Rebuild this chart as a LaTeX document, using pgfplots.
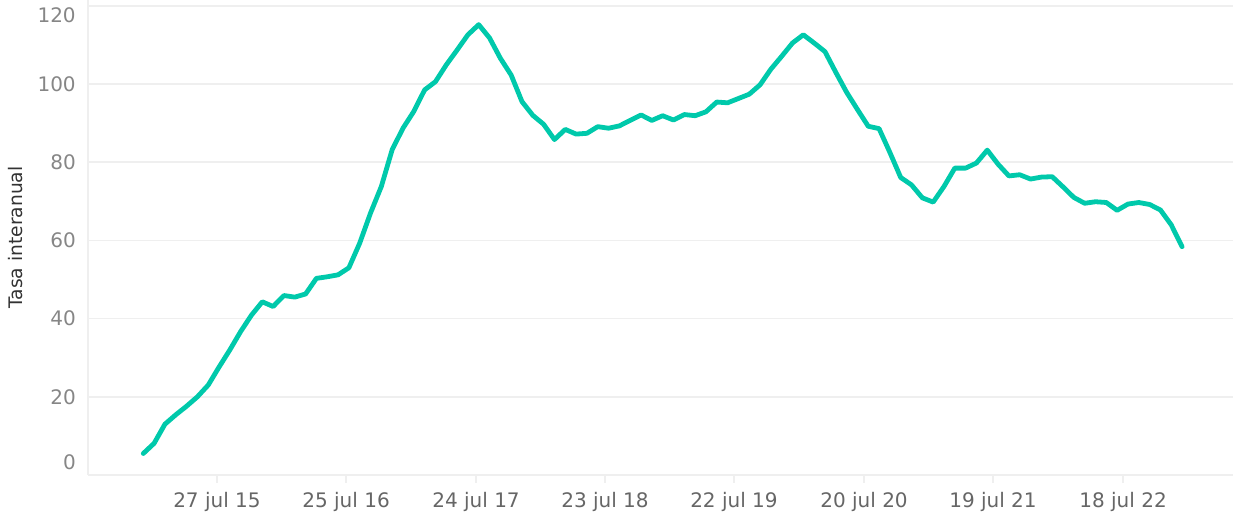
\documentclass[border=0pt]{standalone}
\usepackage{pgfplots}
\pgfplotsset{compat=1.18}
\usepackage{fontspec}
\setmainfont{DejaVu Sans}
\definecolor{teal1}{HTML}{00C9AB}
\definecolor{gridc}{HTML}{EFEFEF}
\definecolor{ylab}{HTML}{868686}
\definecolor{xlab}{HTML}{666666}
\definecolor{titc}{HTML}{333333}
\begin{document}
\begin{tikzpicture}
\path[use as bounding box] (-66pt,-29.25pt) rectangle (858.75pt,356.25pt);
\begin{axis}[
  scale only axis,
  width=858.75pt, height=356.25pt,
  xmin=-5.11, xmax=100.71,
  ymin=0, ymax=121.5,
  axis lines*=left,
  axis line style={-, draw=gridc, line width=1pt},
  x axis line style={dash pattern=on 3pt off 1.5pt},
  ytick={0,20,40,60,80,100,120},
  yticklabels={\raisebox{9.75pt}{0},20,40,60,80,100,\raisebox{-7.3pt}{120}},
  xtick={6.81,18.74,30.75,42.67,54.59,66.61,78.53,90.55},
  xticklabels={27 jul 15,25 jul 16,24 jul 17,23 jul 18,22 jul 19,20 jul 20,19 jul 21,18 jul 22},
  ymajorgrids,
  grid style={draw=gridc, line width=1.2pt},
  ytick style={draw=none},
  xtick style={draw=gridc, line width=1pt},
  tick align=outside,
  major tick length=6pt,
  yticklabel style={font=\fontsize{15}{15}\selectfont, text=ylab, anchor=east, inner sep=0pt, xshift=-3pt, text height=10.9pt, text depth=0pt},
  xticklabel style={font=\fontsize{15}{15}\selectfont, text=xlab, anchor=base, inner sep=0pt, yshift=-18.75pt},
  ylabel={Tasa interanual},
  every axis y label/.style={at={(axis description cs:-0.063,0.5)}, rotate=90, anchor=center, font=\fontsize{14}{14}\selectfont, text=titc},
  clip=false,
]
\addplot[teal1, line width=3.6pt, line join=round, line cap=round] coordinates {
(0,5.5) (1,8.1) (2,13.0) (3,15.4) (4,17.6) (5,20.0) (6,23.0) (7,27.6) (8,32.0) (9,36.7)
(10,40.9) (11,44.3) (12,43.1) (13,45.9) (14,45.5) (15,46.3) (16,50.3) (17,50.7) (18,51.2) (19,53.0)
(20,59.3) (21,67.0) (22,73.8) (23,83.2) (24,88.7) (25,93.0) (26,98.5) (27,100.6) (28,104.9) (29,108.7)
(30,112.6) (31,115.2) (32,111.8) (33,106.6) (34,102.3) (35,95.5) (36,92.0) (37,89.7) (38,85.8) (39,88.4)
(40,87.2) (41,87.4) (42,89.1) (43,88.7) (44,89.3) (45,90.7) (46,92.1) (47,90.7) (48,91.9) (49,90.8)
(50,92.2) (51,91.9) (52,92.9) (53,95.4) (54,95.2) (55,96.3) (56,97.4) (57,99.8) (58,103.8) (59,107.1)
(60,110.5) (61,112.6) (62,110.5) (63,108.3) (64,103.0) (65,97.9) (66,93.5) (67,89.2) (68,88.6) (69,82.5)
(70,76.1) (71,74.2) (72,70.9) (73,69.8) (74,73.8) (75,78.5) (76,78.5) (77,79.8) (78,83.1) (79,79.5)
(80,76.5) (81,76.8) (82,75.7) (83,76.2) (84,76.3) (85,73.7) (86,71.0) (87,69.5) (88,69.9) (89,69.7)
(90,67.7) (91,69.3) (92,69.7) (93,69.2) (94,67.8) (95,64.0) (96,58.4)
};
\end{axis}
\end{tikzpicture}
\end{document}
